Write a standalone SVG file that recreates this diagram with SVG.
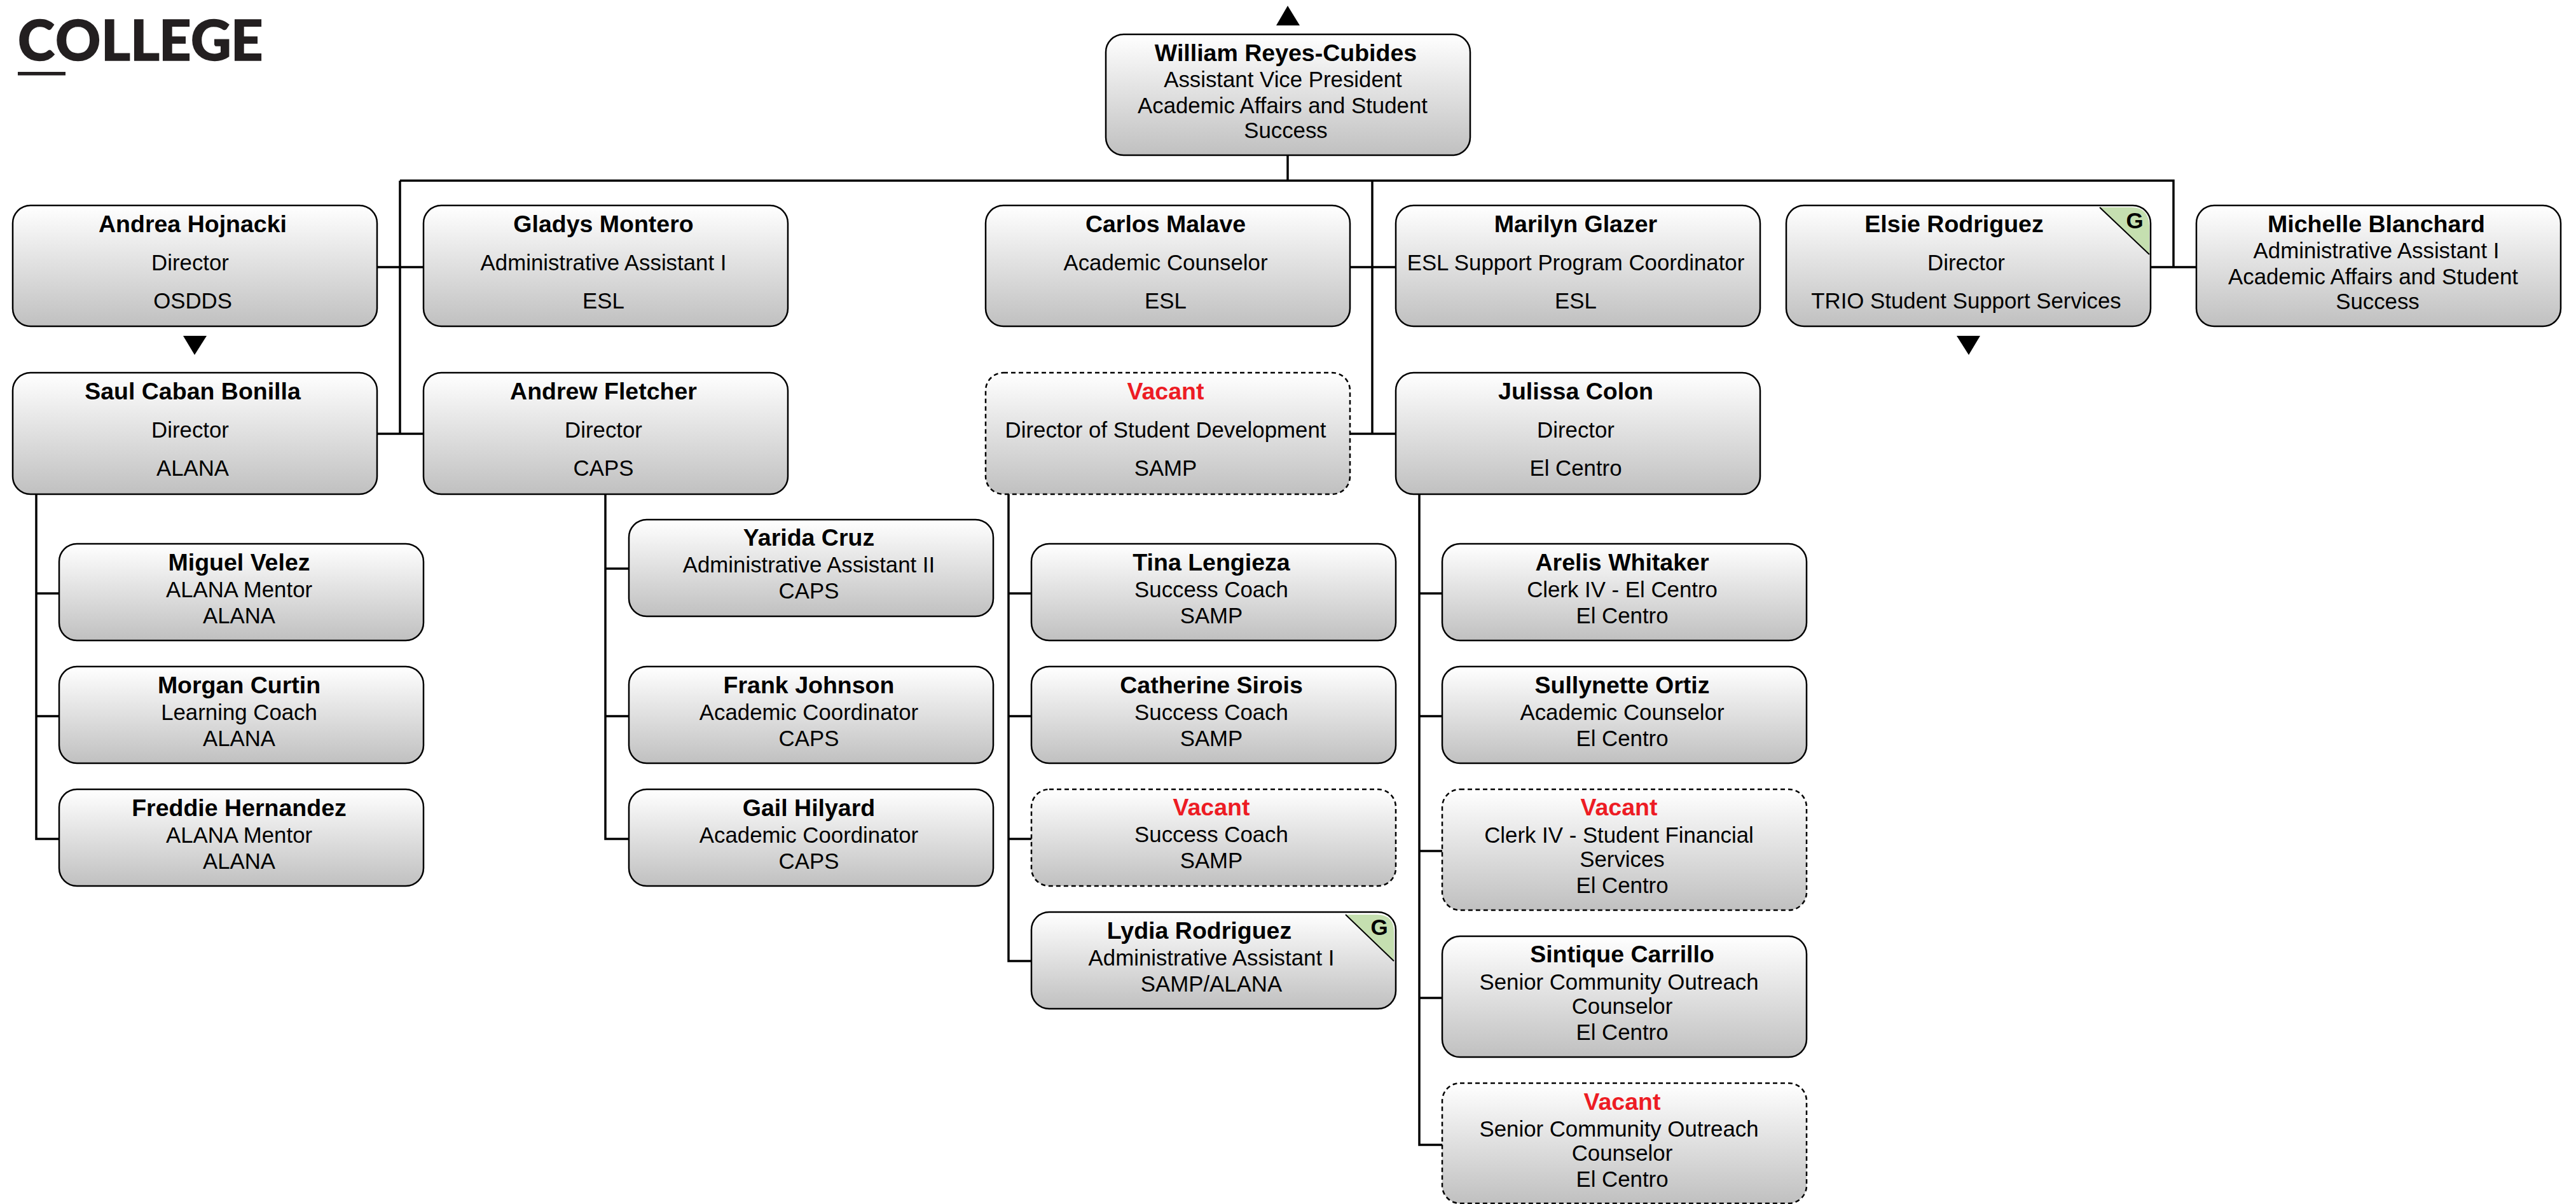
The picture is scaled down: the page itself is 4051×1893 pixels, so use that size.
<svg xmlns="http://www.w3.org/2000/svg" width="4051" height="1893" viewBox="0 0 4051 1893">
<style>
text{font-family:"Liberation Sans",Arial,sans-serif;text-anchor:middle;fill:#000}
.n{font-size:37.500px;font-weight:700}
.t{font-size:34.800px}
.v{font-size:37.500px;font-weight:700;fill:#ed1c24}
.b{fill:url(#g);stroke:#000;stroke-width:2.5}
.d{fill:url(#g);stroke:#000;stroke-width:2.5;stroke-dasharray:7 5}
.c{fill:none;stroke:#000;stroke-width:3.5}
.k{fill:#c5dfb0;stroke:none}
.kl{stroke:#000;stroke-width:2;fill:none}
.gg{font-size:35px;font-weight:700}
</style>
<defs><linearGradient id="g" x1="0" y1="0" x2="0" y2="1"><stop offset="0" stop-color="#fff"/><stop offset="1" stop-color="#c0c0c0"/></linearGradient></defs>
<g id="logo"><text x="28 87 159 205 250 300 363" y="95" style="font-family:Lato,sans-serif;font-weight:900;font-size:88px;fill:#231f20;stroke:#231f20;stroke-width:1.5;text-anchor:start">COLLEGE</text><rect x="28" y="113" width="75" height="5.500" fill="#231f20"/></g>
<g id="connectors">
<path class="c" d="M2025 244V284M629 284H3418V420M629 284V682M2158 284V682M593 420H666M593 682H666M2123 420H2195M2123 682H2195M3381 420H3454"/>
<path class="c" d="M57 777V1319H93M57 933H93M57 1126H93"/>
<path class="c" d="M952 777V1319H989M952 894H989M952 1126H989"/>
<path class="c" d="M1586 777V1511H1622M1586 933H1622M1586 1126H1622M1586 1319H1622"/>
<path class="c" d="M2232 777V1800H2268M2232 933H2268M2232 1126H2268M2232 1338H2268M2232 1569H2268"/>
</g>
<path id="arrow-up" d="M2007 40L2025 9L2044 40Z"/>
<path id="arrow-andrea" d="M288 528L306 558L325 528Z"/>
<path id="arrow-elsie" d="M3077 528L3096 558L3114 528Z"/>
<g id="william"><rect class="b" x="1739" y="54" width="573" height="190" rx="28"/><text class="n" x="2022" y="96">William Reyes-Cubides</text><text class="t" x="2017.500" y="137">Assistant Vice President</text><text class="t" x="2017" y="178">Academic Affairs and Student</text><text class="t" x="2022" y="217">Success</text></g>
<g id="andrea"><rect class="b" x="20" y="323" width="573" height="190" rx="28"/><text class="n" x="303" y="365">Andrea Hojnacki</text><text class="t" x="299" y="425">Director</text><text class="t" x="303" y="485">OSDDS</text></g>
<g id="gladys"><rect class="b" x="666" y="323" width="573" height="190" rx="28"/><text class="n" x="949" y="365">Gladys Montero</text><text class="t" x="949" y="425">Administrative Assistant I</text><text class="t" x="949" y="485">ESL</text></g>
<g id="carlos"><rect class="b" x="1550" y="323" width="573" height="190" rx="28"/><text class="n" x="1833" y="365">Carlos Malave</text><text class="t" x="1833" y="425">Academic Counselor</text><text class="t" x="1833" y="485">ESL</text></g>
<g id="marilyn"><rect class="b" x="2195" y="323" width="573" height="190" rx="28"/><text class="n" x="2478" y="365">Marilyn Glazer</text><text class="t" x="2478" y="425">ESL Support Program Coordinator</text><text class="t" x="2478" y="485">ESL</text></g>
<g id="elsie"><rect class="b" x="2809" y="323" width="573" height="190" rx="28"/><path class="k" d="M3302 326H3352Q3379 326 3380 355V400Z"/><path class="kl" d="M3302 326L3380 400"/><text class="gg" x="3357" y="359">G</text><text class="n" x="3073" y="365">Elsie Rodriguez</text><text class="t" x="3092" y="425">Director</text><text class="t" x="3092" y="485">TRIO Student Support Services</text></g>
<g id="michelle"><rect class="b" x="3454" y="323" width="573" height="190" rx="28"/><text class="n" x="3737" y="365">Michelle Blanchard</text><text class="t" x="3737" y="406">Administrative Assistant I</text><text class="t" x="3732" y="447">Academic Affairs and Student</text><text class="t" x="3739" y="486">Success</text></g>
<g id="saul"><rect class="b" x="20" y="586" width="573" height="191" rx="28"/><text class="n" x="303" y="628">Saul Caban Bonilla</text><text class="t" x="299" y="688">Director</text><text class="t" x="303" y="748">ALANA</text></g>
<g id="andrew"><rect class="b" x="666" y="586" width="573" height="191" rx="28"/><text class="n" x="949" y="628">Andrew Fletcher</text><text class="t" x="949" y="688">Director</text><text class="t" x="949" y="748">CAPS</text></g>
<g id="vacant-director"><rect class="d" x="1550" y="586" width="573" height="191" rx="28"/><text class="v" x="1833" y="628">Vacant</text><text class="t" x="1833" y="688">Director of Student Development</text><text class="t" x="1833" y="748">SAMP</text></g>
<g id="julissa"><rect class="b" x="2195" y="586" width="573" height="191" rx="28"/><text class="n" x="2478" y="628">Julissa Colon</text><text class="t" x="2478" y="688">Director</text><text class="t" x="2478" y="748">El Centro</text></g>
<g id="miguel"><rect class="b" x="93" y="855" width="573" height="152" rx="28"/><text class="n" x="376" y="897">Miguel Velez</text><text class="t" x="376" y="939">ALANA Mentor</text><text class="t" x="376" y="980">ALANA</text></g>
<g id="morgan"><rect class="b" x="93" y="1048" width="573" height="152" rx="28"/><text class="n" x="376" y="1090">Morgan Curtin</text><text class="t" x="376" y="1132">Learning Coach</text><text class="t" x="376" y="1173">ALANA</text></g>
<g id="freddie"><rect class="b" x="93" y="1241" width="573" height="152" rx="28"/><text class="n" x="376" y="1283">Freddie Hernandez</text><text class="t" x="376" y="1325">ALANA Mentor</text><text class="t" x="376" y="1366">ALANA</text></g>
<g id="yarida"><rect class="b" x="989" y="817" width="573" height="152" rx="28"/><text class="n" x="1272" y="858">Yarida Cruz</text><text class="t" x="1272" y="900">Administrative Assistant II</text><text class="t" x="1272" y="941">CAPS</text></g>
<g id="frank"><rect class="b" x="989" y="1048" width="573" height="152" rx="28"/><text class="n" x="1272" y="1090">Frank Johnson</text><text class="t" x="1272" y="1132">Academic Coordinator</text><text class="t" x="1272" y="1173">CAPS</text></g>
<g id="gail"><rect class="b" x="989" y="1241" width="573" height="152" rx="28"/><text class="n" x="1272" y="1283">Gail Hilyard</text><text class="t" x="1272" y="1325">Academic Coordinator</text><text class="t" x="1272" y="1366">CAPS</text></g>
<g id="tina"><rect class="b" x="1622" y="855" width="573" height="152" rx="28"/><text class="n" x="1905" y="897">Tina Lengieza</text><text class="t" x="1905" y="939">Success Coach</text><text class="t" x="1905" y="980">SAMP</text></g>
<g id="catherine"><rect class="b" x="1622" y="1048" width="573" height="152" rx="28"/><text class="n" x="1905" y="1090">Catherine Sirois</text><text class="t" x="1905" y="1132">Success Coach</text><text class="t" x="1905" y="1173">SAMP</text></g>
<g id="vacant-coach"><rect class="d" x="1622" y="1241" width="573" height="152" rx="28"/><text class="v" x="1905" y="1282">Vacant</text><text class="t" x="1905" y="1324">Success Coach</text><text class="t" x="1905" y="1365">SAMP</text></g>
<g id="lydia"><rect class="b" x="1622" y="1434" width="573" height="152" rx="28"/><path class="k" d="M2116 1438H2165Q2192 1438 2192 1465V1511Z"/><path class="kl" d="M2116 1438L2192 1511"/><text class="gg" x="2169" y="1470">G</text><text class="n" x="1886" y="1476">Lydia Rodriguez</text><text class="t" x="1905" y="1518">Administrative Assistant I</text><text class="t" x="1905" y="1559">SAMP/ALANA</text></g>
<g id="arelis"><rect class="b" x="2268" y="855" width="573" height="152" rx="28"/><text class="n" x="2551" y="897">Arelis Whitaker</text><text class="t" x="2551" y="939">Clerk IV - El Centro</text><text class="t" x="2551" y="980">El Centro</text></g>
<g id="sullynette"><rect class="b" x="2268" y="1048" width="573" height="152" rx="28"/><text class="n" x="2551" y="1090">Sullynette Ortiz</text><text class="t" x="2551" y="1132">Academic Counselor</text><text class="t" x="2551" y="1173">El Centro</text></g>
<g id="vacant-clerk"><rect class="d" x="2268" y="1241" width="573" height="190" rx="28"/><text class="v" x="2546" y="1282">Vacant</text><text class="t" x="2546" y="1325">Clerk IV - Student Financial</text><text class="t" x="2551" y="1363">Services</text><text class="t" x="2551" y="1404">El Centro</text></g>
<g id="sintique"><rect class="b" x="2268" y="1472" width="573" height="190" rx="28"/><text class="n" x="2551" y="1513">Sintique Carrillo</text><text class="t" x="2546" y="1556">Senior Community Outreach</text><text class="t" x="2551" y="1594">Counselor</text><text class="t" x="2551" y="1635">El Centro</text></g>
<g id="vacant-outreach"><rect class="d" x="2268" y="1703" width="573" height="189" rx="28"/><text class="v" x="2551" y="1745">Vacant</text><text class="t" x="2546" y="1787">Senior Community Outreach</text><text class="t" x="2551" y="1825">Counselor</text><text class="t" x="2551" y="1866">El Centro</text></g>
</svg>
